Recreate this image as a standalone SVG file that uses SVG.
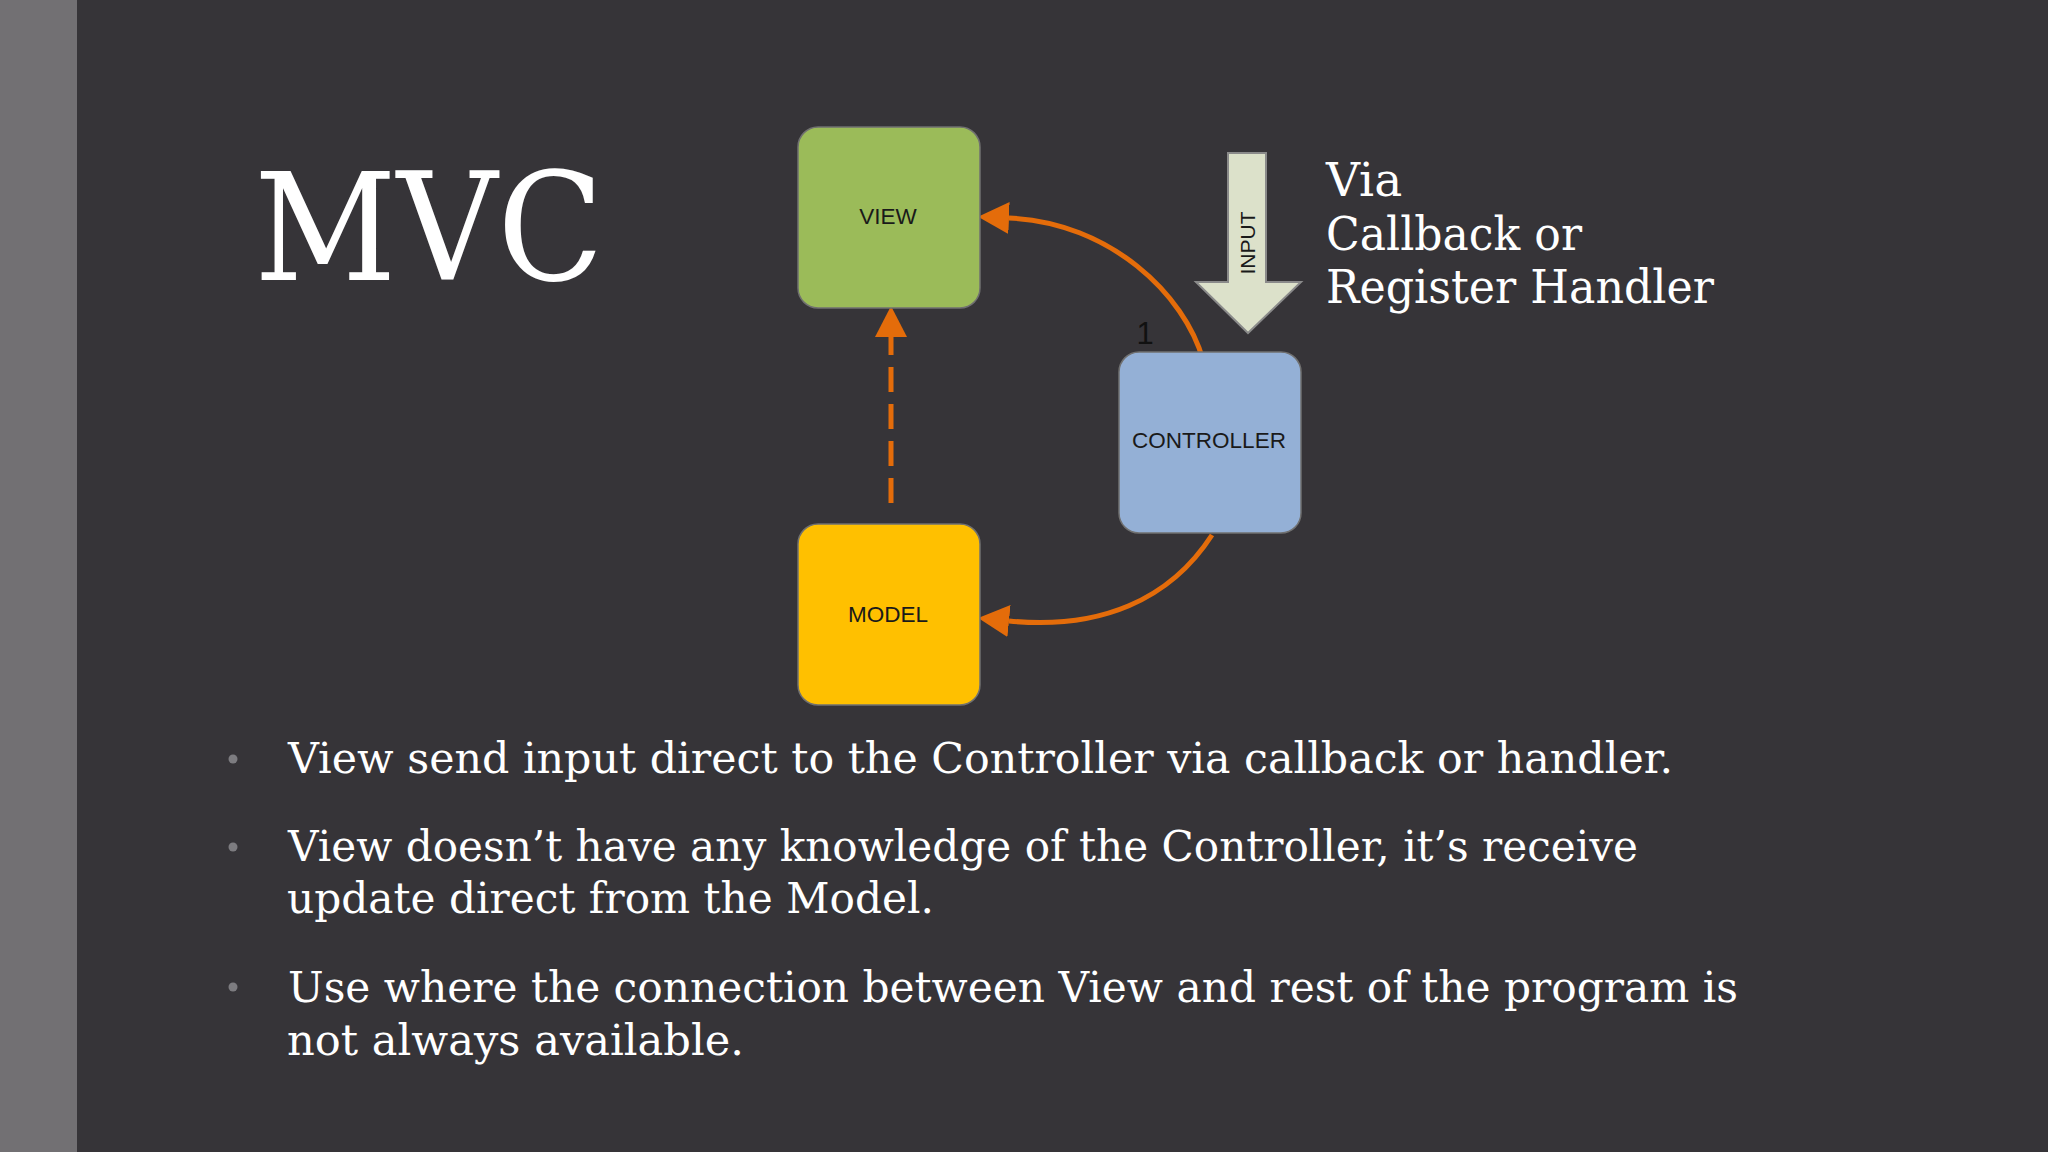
<svg xmlns="http://www.w3.org/2000/svg" width="2048" height="1152" viewBox="0 0 2048 1152">
  <style>
    .serif { font-family: "DejaVu Serif", "Liberation Serif", serif; fill: #ffffff; }
    .box { stroke: #707070; stroke-width: 1.5; }
    .lbl { font-family: "Liberation Sans", Arial, sans-serif; font-size: 22.5px; fill: #1a1a1a; text-anchor: middle; }
    .conn { fill: none; stroke: #E46C0A; stroke-width: 5; }
    .bullet { fill: #7d7c80; }
    .body { font-size: 42px; }
    .side { font-size: 47px; }
  </style>
  <defs>
    <marker id="ah" markerUnits="userSpaceOnUse" markerWidth="31" markerHeight="32" viewBox="0 0 31 32" refX="0" refY="16" orient="auto">
      <path d="M0,0 L31,16 L0,32 Z" fill="#E46C0A"/>
    </marker>
  </defs>

  <rect x="0" y="0" width="2048" height="1152" fill="#363438"/>
  <rect x="0" y="0" width="77" height="1152" fill="#727073"/>

  <text class="serif" x="254" y="280" font-size="150" textLength="350" lengthAdjust="spacingAndGlyphs">MVC</text>

  <g id="input-arrow">
    <polygon points="1228,153 1266,153 1266,282 1301,282 1248,333 1196,282 1228,282" fill="#DCE1CA" stroke="#8a8a8a" stroke-width="2"/>
    <text transform="translate(1255 243) rotate(-90)" x="0" y="0" font-family="Liberation Sans, Arial, sans-serif" font-size="21" fill="#1a1a1a" text-anchor="middle">INPUT</text>
  </g>

  <g id="connectors">
    <path class="conn" d="M 1203 360 C 1185 295 1110 222 1009 218" marker-end="url(#ah)"/>
    <path class="conn" d="M 1212 535 C 1170 600 1100 630 1009 621" marker-end="url(#ah)"/>
    <path class="conn" d="M 891 503 L 891 337" stroke-dasharray="25 12" marker-end="url(#ah)"/>
    <text x="1145" y="344" font-family="Liberation Sans, Arial, sans-serif" font-size="31" fill="#111" text-anchor="middle">1</text>
  </g>

  <g id="view">
    <rect class="box" x="798" y="127" width="182" height="181" rx="20" fill="#9BBB59"/>
    <text class="lbl" x="888" y="224">VIEW</text>
  </g>

  <g id="controller">
    <rect class="box" x="1119" y="352" width="182" height="181" rx="20" fill="#94B0D6"/>
    <text class="lbl" x="1209" y="448">CONTROLLER</text>
  </g>

  <g id="model">
    <rect class="box" x="798" y="524" width="182" height="181" rx="20" fill="#FFC000"/>
    <text class="lbl" x="888" y="622">MODEL</text>
  </g>

  <g id="side-note">
    <text class="serif side" x="1326" y="196">Via</text>
    <text class="serif side" x="1326" y="250" textLength="256" lengthAdjust="spacingAndGlyphs">Callback or</text>
    <text class="serif side" x="1326" y="303" textLength="388" lengthAdjust="spacingAndGlyphs">Register Handler</text>
  </g>

  <g id="bullets">
    <circle class="bullet" cx="233" cy="759" r="4.5"/>
    <circle class="bullet" cx="233" cy="847" r="4.5"/>
    <circle class="bullet" cx="233" cy="987" r="4.5"/>
    <text class="serif body" x="288" y="773" textLength="1385" lengthAdjust="spacingAndGlyphs">View send input direct to the Controller via callback or handler.</text>
    <text class="serif body" x="288" y="861" textLength="1350" lengthAdjust="spacingAndGlyphs">View doesn’t have any knowledge of the Controller, it’s receive</text>
    <text class="serif body" x="287" y="913" textLength="647" lengthAdjust="spacingAndGlyphs">update direct from the Model.</text>
    <text class="serif body" x="288" y="1002" textLength="1450" lengthAdjust="spacingAndGlyphs">Use where the connection between View and rest of the program is</text>
    <text class="serif body" x="287" y="1055" textLength="457" lengthAdjust="spacingAndGlyphs">not always available.</text>
  </g>
</svg>
